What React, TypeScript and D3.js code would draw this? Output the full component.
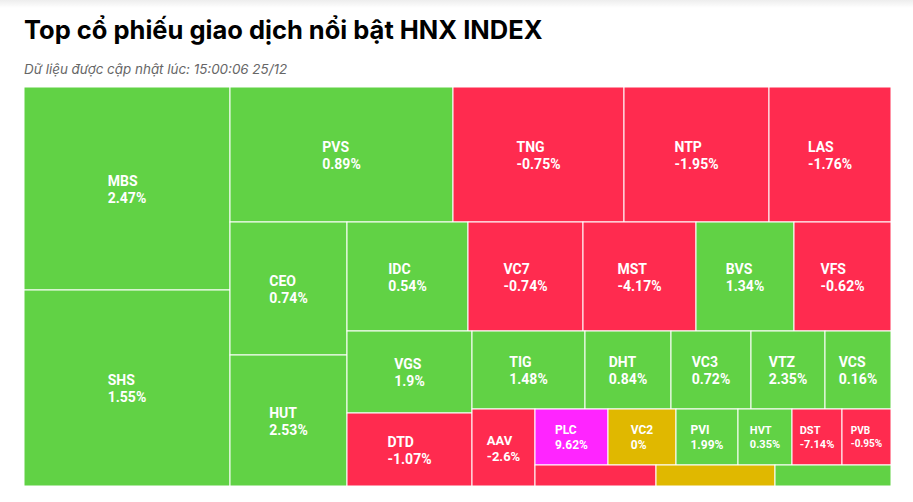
import React, { useMemo } from "react";
import * as d3 from "d3";

const TITLE = "Top cổ phiếu giao dịch nổi bật HNX INDEX";
const SUBTITLE = "Dữ liệu được cập nhật lúc: 15:00:06 25/12";

// Ticker symbols (the last three cells are too small to show labels)
const tickers = [
  "MBS", "SHS", "PVS", "TNG", "NTP", "LAS", "CEO", "HUT", "IDC", "VC7",
  "MST", "BVS", "VFS", "VGS", "DTD", "TIG", "DHT", "VC3", "VTZ", "VCS",
  "AAV", "PLC", "VC2", "PVI", "HVT", "DST", "PVB", "N28", "N29", "N30",
];
// Trading value (relative units)
const volumes = [
  41818, 40376, 30105, 23085, 19575, 16470, 15561, 15327, 13189, 12535,
  12317, 10682, 10573, 10250, 9125, 8814, 6708, 6240, 5772, 5148,
  4851, 4088, 3808, 3472, 3024, 2800, 2744, 2541, 2499, 2436,
];
// Price change, %
const changes = [
  2.47, 1.55, 0.89, -0.75, -1.95, -1.76, 0.74, 2.53, 0.54, -0.74,
  -4.17, 1.34, -0.62, 1.9, -1.07, 1.48, 0.84, 0.72, 2.35, 0.16,
  -2.6, 9.62, 0, 1.99, 0.35, -7.14, -0.95, -1.2, 0, 1.1,
];

const W = 913;
const H = 502;
const M = { left: 24, top: 87, right: 22, bottom: 16 };

const color = d3
  .scaleThreshold<number, string>()
  .domain([-9.5, 0, 0.005, 9.5])
  .range(["#1EEEEE", "#FF2B4F", "#E0B800", "#61D245", "#FF25FF"]);

// Highcharts-style "squarified" tiling (alternating direction, greedy on last element ratio)
function squarifyAlt(parent: any, x0: number, y0: number, x1: number, y1: number) {
  const nodes = parent.children;
  if (!nodes) return;
  const Wd = x1 - x0;
  const Ht = y1 - y0;
  const areas = nodes.map((n: any) => (Wd * Ht * n.value) / parent.value);
  let gw = Wd;
  let gh = Ht;
  let gx = x0;
  let gy = y0;
  let dir = 0;
  let el: number[] = [];
  let idx: number[] = [];
  let tot = 0, nW = 0, lW = 0, nH = 0, lH = 0, lR = 0, nR = 0;
  const ar = (a: number, b: number) => Math.max(a / b, b / a);
  const add = (i: number) => {
    const lt = el[el.length - 1];
    tot += areas[i];
    if (dir === 0) {
      lW = nW;
      lR = ar(lW, lt / lW);
      nW = tot / gh;
      nR = ar(nW, lt / nW);
    } else {
      lH = nH;
      lR = ar(lt / lH, lH);
      nH = tot / gw;
      nR = ar(lt / nH, nH);
    }
    el.push(areas[i]);
    idx.push(i);
  };
  const calc = (last: boolean) => {
    let GW = lW, GH = lH;
    let keep = -1;
    if (last) { GW = nW; GH = nH; } else { keep = idx[idx.length - 1]; }
    const n = last ? el.length : el.length - 1;
    let px = gx, py = gy;
    for (let k = 0; k < n; k++) {
      const node = nodes[idx[k]];
      const p = el[k];
      if (dir === 0) {
        const h = p / GW;
        node.x0 = px; node.y0 = py; node.x1 = px + GW; node.y1 = py + h;
        py += h;
      } else {
        const w = p / GH;
        node.x0 = px; node.y0 = py; node.x1 = px + w; node.y1 = py + GH;
        px += w;
      }
    }
    nW = 0; lW = 0; el = []; idx = []; tot = 0;
    if (dir === 0) gw -= GW; else gh -= GH;
    gx = x1 - gw;
    gy = y1 - gh;
    dir = 1 - dir;
    if (!last) add(keep);
  };
  const end = nodes.length - 1;
  nodes.forEach((_: any, i: number) => {
    add(i);
    if (nR > lR) calc(false);
    if (i === end) calc(true);
  });
}

let ctx: CanvasRenderingContext2D | null = null;
function textWidth(s: string, fs: number) {
  if (!ctx) ctx = document.createElement("canvas").getContext("2d");
  if (!ctx) return s.length * fs * 0.6;
  ctx.font = `bold ${fs}px Roboto`;
  return ctx.measureText(s).width;
}

export default function App() {
  const leaves = useMemo(() => {
    const data = {
      name: "root",
      children: tickers.map((t, i) => ({ name: t, value: volumes[i], change: changes[i] })),
    };
    const root = d3
      .hierarchy<any>(data)
      .sum((d: any) => d.value || 0)
      .sort((a, b) => (b.value || 0) - (a.value || 0));
    d3.treemap<any>()
      .tile(squarifyAlt as any)
      .size([W - M.left - M.right, H - M.top - M.bottom])
      .round(false)(root);
    return root.leaves() as any[];
  }, []);

  return (
    <svg
      width={W}
      height={H}
      style={{ position: "absolute", left: 0, top: 0, display: "block", background: "#fff" }}
    >
      <defs>
        <linearGradient id="topShade" x1="0" y1="0" x2="0" y2="1">
          <stop offset="0" stopColor="#000" stopOpacity={0.07} />
          <stop offset="1" stopColor="#000" stopOpacity={0} />
        </linearGradient>
      </defs>
      <rect x={0} y={0} width={W} height={8} fill="url(#topShade)" />
      <text
        x={24}
        y={39}
        fontFamily="Inter, 'Noto Sans', sans-serif"
        fontWeight={700}
        fontSize={25.5}
        fill="#000"
      >
        {TITLE}
      </text>
      <text
        x={24}
        y={74}
        fontFamily="Inter, 'Noto Sans', sans-serif"
        fontStyle="italic"
        fontSize={13.4}
        fill="#666"
      >
        {SUBTITLE}
      </text>
      <g transform={`translate(${M.left},${M.top})`}>
        {leaves.map((d) => (
          <rect
            key={d.data.name}
            x={d.x0}
            y={d.y0}
            width={d.x1 - d.x0}
            height={d.y1 - d.y0}
            fill={color(d.data.change)}
            stroke="#fff"
            strokeWidth={1}
          />
        ))}
        {leaves.map((d) => {
          const w = d.x1 - d.x0;
          const h = d.y1 - d.y0;
          const fs = Math.max(9, Math.min(14, Math.round(Math.min(w, h) / 4.7)));
          const lh = fs <= 12 ? fs + 3 : Math.round(fs * 1.2);
          const b = Math.round(lh * 0.8);
          if (h < 2 * lh + 4) return null;
          const l1 = d.data.name;
          const l2 = `${d.data.change}%`;
          const bw = Math.max(textWidth(l1, fs), textWidth(l2, fs));
          if (bw > w - 4) return null;
          const cx = (d.x0 + d.x1) / 2;
          const cy = (d.y0 + d.y1) / 2;
          const tx = cx - bw / 2;
          const by = cy - lh + b;
          return (
            <text
              key={"t" + d.data.name}
              fontFamily="Roboto, sans-serif"
              fontWeight={700}
              fontSize={fs}
              fill="#fff"
            >
              <tspan x={tx} y={by}>{l1}</tspan>
              <tspan x={tx} y={by + lh}>{l2}</tspan>
            </text>
          );
        })}
      </g>
    </svg>
  );
}
